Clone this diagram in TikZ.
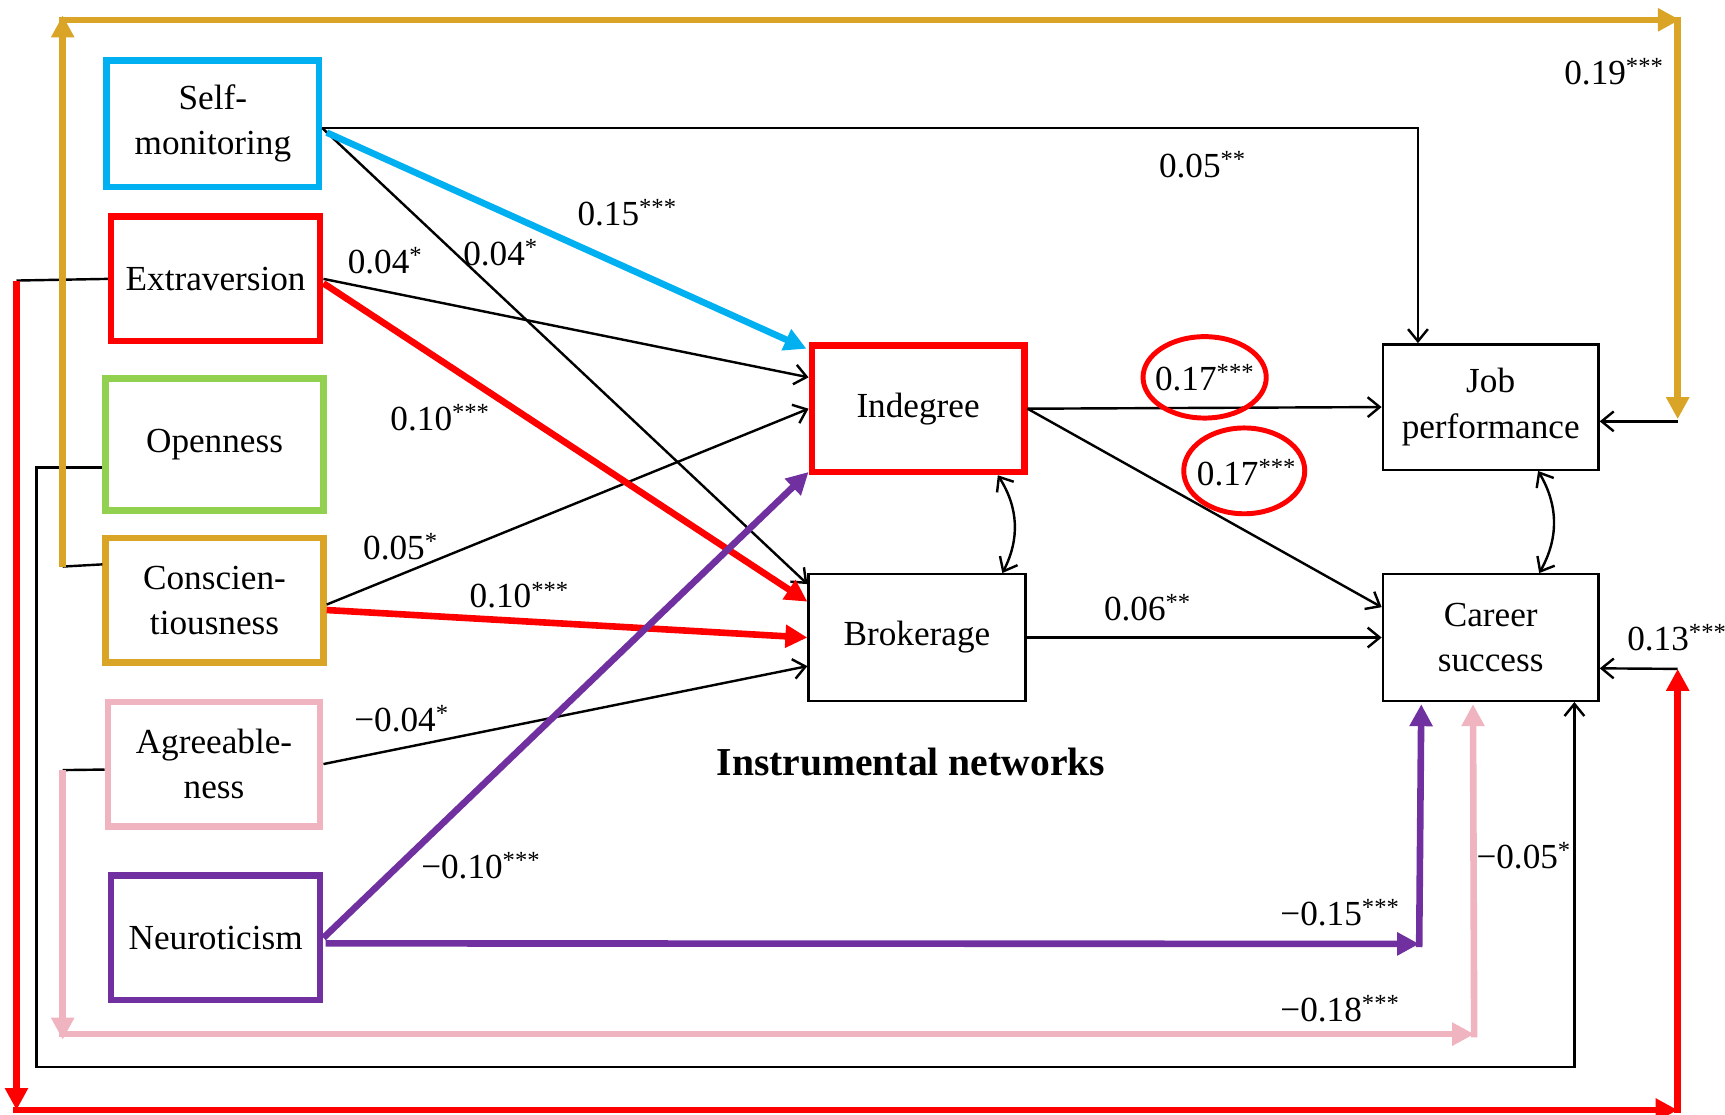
\documentclass[tikz,border=0pt]{standalone}
\usepackage{fontspec}
\setmainfont{Liberation Serif}
\usetikzlibrary{arrows.meta,calc}
\definecolor{cblue}{RGB}{0,176,240}
\definecolor{cred}{RGB}{255,0,0}
\definecolor{cgreen}{RGB}{146,208,80}
\definecolor{cgold}{RGB}{218,165,38}
\definecolor{cpink}{RGB}{240,180,192}
\definecolor{cpurple}{RGB}{112,48,160}
\newcommand{\sig}[1]{\textsuperscript{#1}}
\begin{document}
\begin{tikzpicture}[x=1pt,y=-1pt,
  font=\fontsize{32}{41}\selectfont,
  box/.style={draw=black,line width=2.2pt,align=center,inner sep=0pt},
  cbox/.style={box,draw=#1,line width=6pt},
  lab/.style={inner sep=0pt,font=\fontsize{32}{36}\selectfont},
  blk/.style={line width=2.2pt,-{Straight Barb[length=11pt,width=18pt,line width=2.2pt]}},
  blk2/.style={line width=2.2pt,{Straight Barb[length=11pt,width=18pt,line width=2.2pt]}-{Straight Barb[length=11pt,width=18pt,line width=2.2pt]}},
  plain/.style={line width=2.2pt},
  col/.style={line width=6pt,draw=#1,-{Triangle[length=20pt,width=20pt,fill=#1]}}
]
\useasboundingbox[fill=white] (0,0) rectangle (1568,1013);

% boxes
\node[cbox=cblue,minimum width=193,minimum height=115] (sm) at (193.5,112.5) {Self-\\monitoring};
\node[cbox=cred,minimum width=190,minimum height=113] (ex) at (196,253.5) {Extraversion};
\node[cbox=cgreen,minimum width=198,minimum height=120] (op) at (195,404) {Openness};
\node[cbox=cgold,minimum width=198,minimum height=113] (co) at (195,545.5) {Conscien-\\tiousness};
\node[cbox=cpink,minimum width=193,minimum height=113] (ag) at (194.5,694.5) {Agreeable-\\ness};
\node[cbox=cpurple,minimum width=190,minimum height=113] (ne) at (196,852.5) {Neuroticism};
\node[cbox=cred,minimum width=193,minimum height=115] (in) at (834.5,371.5) {Indegree};
\node[box,minimum width=197,minimum height=115] (br) at (833.5,579.5) {Brokerage};
\node[box,minimum width=196,minimum height=114] (jp) at (1355,370) {Job\\performance};
\node[box,minimum width=196,minimum height=115] (cs) at (1355,579.5) {Career\\success};

\node[inner sep=0pt,font=\fontsize{36}{42}\selectfont\bfseries] (title) at (828,693) {Instrumental networks};

% corner coordinates
\coordinate (g1) at (57,515);
\coordinate (g2) at (57,18);
\coordinate (g3) at (1525,18);
\coordinate (g4) at (1525,381);
\coordinate (r1) at (15,255);
\coordinate (r2) at (15,1009);
\coordinate (r3) at (1525,1009);
\coordinate (r4) at (1525,608);
\coordinate (p1) at (57,700);
\coordinate (p2) at (57,940);
\coordinate (p3) at (1340,940);
\coordinate (o1) at (33,425);
\coordinate (o2) at (33,970);
\coordinate (u1) at (1290,858);

% black connectors
\draw[blk] ($(sm.east)+(0,4)$) -| ($(jp.north west)+(33,0)$);
\draw[blk] ($(sm.east)+(0,4)$) -- ($(br.north west)+(0,10)$);
\draw[blk] (ex.east) -- ($(in.north west)+(0,32)$);
\draw[blk] ($(co.east)+(0,4)$) -- (in.west);
\draw[blk] (ag.east) -- ($(br.west)+(0,26)$);
\draw[blk] (in.east) -- (jp.west);
\draw[blk] (in.east) -- ($(cs.north west)+(0,31)$);
\draw[blk] (br.east) -- (cs.west);
\draw[blk2] ($(in.south east)+(-27,0)$) to[bend left=30] ($(br.north east)+(-22,0)$);
\draw[blk2] ($(jp.south east)+(-56,0)$) to[bend left=30] ($(cs.north east)+(-55,0)$);
\draw[blk] ($(op.west)+(0,21)$) -- (o1) -- (o2) -| ($(cs.south east)+(-23,0)$);
\draw[plain] ($(co.north west)+(0,27)$) -- (g1);
\draw[blk] ($(g4)+(0,2)$) -- ($(jp.east)+(0,13)$);
\draw[plain] (ex.west) -- (r1);
\draw[blk] (r4) -- ($(cs.east)+(0,28)$);
\draw[plain] ($(ag.west)+(0,5)$) -- (p1);

% coloured connectors
\draw[col=cblue] ($(sm.east)+(4,8)$) -- ($(in.north west)+(-2,6)$);
\draw[col=cred] ($(ex.east)+(0,4)$) -- ($(br.north west)+(0,26)$);
\draw[col=cred] ($(co.east)+(0,9)$) -- (br.west);
\draw[col=cpurple] (ne.east) -- ($(in.south west)+(0,-3)$);
\draw[col=cpurple] ($(ne.east)+(2,5)$) -- (u1);
\draw[col=cpurple] ($(u1)+(0,3)$) -- ($(cs.south west)+(36,2)$);
\draw[col=cgold] (g1) -- ($(g2)+(0,-4)$);
\draw[col=cgold] ($(g2)+(-3,0)$) -- ($(g3)+(2,0)$);
\draw[col=cgold] ($(g3)+(0,-3)$) -- (g4);
\draw[col=cred] (r1) -- (r2);
\draw[col=cred] ($(r2)+(-3,0)$) -- (r3);
\draw[col=cred] ($(r3)+(0,3)$) -- (r4);
\draw[col=cpink] (p1) -- ($(p2)+(0,5)$);
\draw[col=cpink] ($(p2)+(-3,0)$) -- (p3);
\draw[col=cpink] ($(p3)+(0,3)$) -- ($(cs.south west)+(83,2)$);

% labels
\node[lab] (l1) at (1467,65) {0.19\sig{***}};
\node[lab] (l2) at (1093,150) {0.05\sig{**}};
\node[lab] (l3) at (570,193) {0.15\sig{***}};
\node[lab] (l4) at (350,237) {0.04\sig{*}};
\node[lab] (l5) at (455,230) {0.04\sig{*}};
\node[lab] (l6) at (400,380) {0.10\sig{***}};
\node[lab] (l7) at (364,497) {0.05\sig{*}};
\node[lab] (l8) at (472,541) {0.10\sig{***}};
\node[lab] (l9) at (365,653) {−0.04\sig{*}};
\node[lab] (l10) at (437,787) {−0.10\sig{***}};
\node[lab] (l11) at (1095,343) {0.17\sig{***}};
\node[lab] (l12) at (1133,430) {0.17\sig{***}};
\node[lab] (l13) at (1043,552) {0.06\sig{**}};
\node[lab,anchor=west] (l14) at (1479,580) {0.13\sig{***}};
\node[lab] (l15) at (1385,778) {−0.05\sig{*}};
\node[lab] (l16) at (1218,830) {−0.15\sig{***}};
\node[lab] (l17) at (1218,917) {−0.18\sig{***}};

% red ellipses
\draw[cred,line width=4.5pt] (l11.center) ellipse [x radius=56, y radius=37];
\draw[cred,line width=4.5pt] ($(l12.center)+(-2,-2)$) ellipse [x radius=55, y radius=39];
\end{tikzpicture}
\end{document}
